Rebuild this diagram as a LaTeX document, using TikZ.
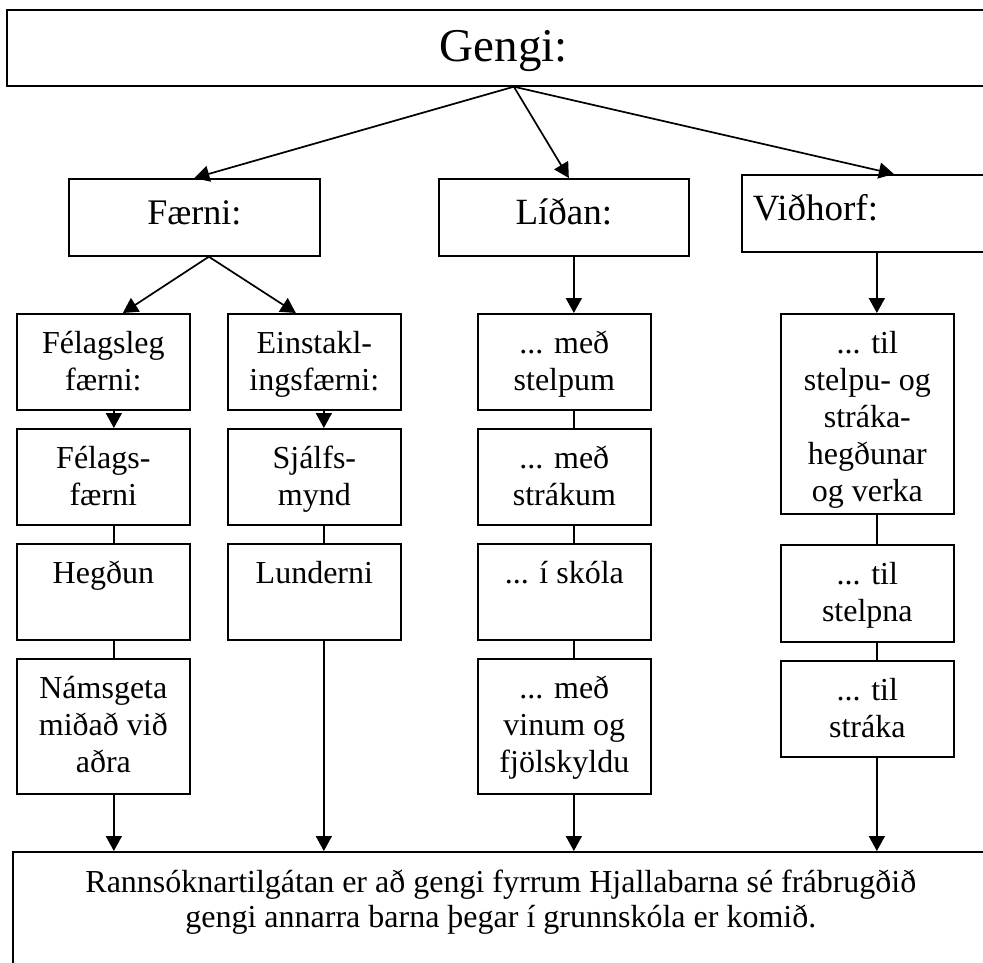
\documentclass[tikz,border=0pt]{standalone}
\usepackage{fontspec}
\setmainfont{Liberation Serif}
\usetikzlibrary{arrows.meta}
% width, height, first-baseline offset, font size, leading, text
\newcommand\bx[6]{\parbox[c][#2pt][t]{#1pt}{\centering\fontsize{#4pt}{#5pt}\selectfont\rule{0pt}{#3pt}#6\par}}
\newcommand\bxl[7]{\parbox[c][#2pt][t]{#1pt}{\raggedright\fontsize{#4pt}{#5pt}\selectfont\hspace*{#6pt}\rule{0pt}{#3pt}#7\par}}
\newcommand\cell[2]{\bx{173}{#1}{40}{32}{37}{#2}}
\begin{document}
\begin{tikzpicture}[x=1pt,y=-1pt,
  box/.style={draw, line width=1.7pt, inner sep=0pt, anchor=north west},
  con/.style={line width=1.7pt},
  arr/.style={con, -{Triangle[width=16pt,length=15pt]}}]
\useasboundingbox (0,0) rectangle (983,963);
\clip (0,0) rectangle (983,963);
% top
\node[box] (gengi) at (6,9) {\bx{994}{76}{52}{47}{52}{Gengi:}};
% heads
\node[box] (faerni) at (68,178) {\bx{251}{77}{46}{36}{41}{Færni:}};
\node[box] (lidan) at (438,178) {\bx{250}{77}{46}{37}{41}{Líðan:}};
\node[box] (vid) at (741,174) {\bxl{250}{77}{46}{37}{41}{11}{Viðhorf:}};
% column A
\node[box] (A1) at (16,313) {\cell{96}{Félagsleg\\færni:}};
\node[box] (A2) at (16,428) {\cell{96}{Félags-\\færni}};
\node[box] (A3) at (16,543) {\cell{96}{Hegðun}};
\node[box] (A4) at (16,658) {\cell{135}{Námsgeta\\miðað við\\aðra}};
% column B
\node[box] (B1) at (227,313) {\cell{96}{Einstakl-\\ingsfærni:}};
\node[box] (B2) at (227,428) {\cell{96}{Sjálfs-\\mynd}};
\node[box] (B3) at (227,543) {\cell{96}{Lunderni}};
% column C
\node[box] (C1) at (477,313) {\cell{96}{... með\\stelpum}};
\node[box] (C2) at (477,428) {\cell{96}{... með\\strákum}};
\node[box] (C3) at (477,543) {\cell{96}{... í skóla}};
\node[box] (C4) at (477,658) {\cell{135}{... með\\vinum og\\fjölskyldu}};
% column D
\node[box] (D1) at (780,313) {\cell{200}{... til\\stelpu- og\\stráka-\\hegðunar\\og verka}};
\node[box] (D2) at (780,544) {\cell{97}{... til\\stelpna}};
\node[box] (D3) at (780,660) {\cell{96}{... til\\stráka}};
% bottom
\node[box] (bottom) at (12,851) {\bx{976}{130}{41}{32}{35}{Rannsóknartilgátan er að gengi fyrrum Hjallabarna sé frábrugðið\\gengi annarra barna þegar í grunnskóla er komið.}};
% connectors from top
\draw[arr] ([xshift=10pt]gengi.south) -- (faerni.north);
\draw[arr] ([xshift=10pt]gengi.south) -- ([xshift=5pt]lidan.north);
\draw[arr] ([xshift=10pt]gengi.south) -- ([xshift=27pt]vid.north);
% Faerni split
\draw[arr] ([xshift=14.5pt]faerni.south) -- ([xshift=19.5pt]A1.north);
\draw[arr] ([xshift=14.5pt]faerni.south) -- ([xshift=-18.5pt]B1.north);
% heads down
\draw[arr] ([xshift=10pt]lidan.south) -- ([xshift=10pt]lidan.south |- C1.north);
\draw[arr] ([xshift=10pt]vid.south) -- ([xshift=10pt]vid.south |- D1.north);
% within columns
\draw[arr] ([xshift=10.5pt]A1.south) -- ([xshift=10.5pt]A2.north);
\draw[con] ([xshift=10.5pt]A2.south) -- ([xshift=10.5pt]A3.north);
\draw[con] ([xshift=10.5pt]A3.south) -- ([xshift=10.5pt]A4.north);
\draw[arr] ([xshift=9.5pt]B1.south) -- ([xshift=9.5pt]B2.north);
\draw[con] ([xshift=9.5pt]B2.south) -- ([xshift=9.5pt]B3.north);
\draw[con] ([xshift=9.5pt]C1.south) -- ([xshift=9.5pt]C2.north);
\draw[con] ([xshift=9.5pt]C2.south) -- ([xshift=9.5pt]C3.north);
\draw[con] ([xshift=9.5pt]C3.south) -- ([xshift=9.5pt]C4.north);
\draw[con] ([xshift=9.5pt]D1.south) -- ([xshift=9.5pt]D2.north);
\draw[con] ([xshift=9.5pt]D2.south) -- ([xshift=9.5pt]D3.north);
% to bottom
\draw[arr] ([xshift=10.5pt]A4.south) -- ([xshift=10.5pt]A4.south |- bottom.north);
\draw[arr] ([xshift=9.5pt]B3.south) -- ([xshift=9.5pt]B3.south |- bottom.north);
\draw[arr] ([xshift=9.5pt]C4.south) -- ([xshift=9.5pt]C4.south |- bottom.north);
\draw[arr] ([xshift=9.5pt]D3.south) -- ([xshift=9.5pt]D3.south |- bottom.north);
\end{tikzpicture}
\end{document}
